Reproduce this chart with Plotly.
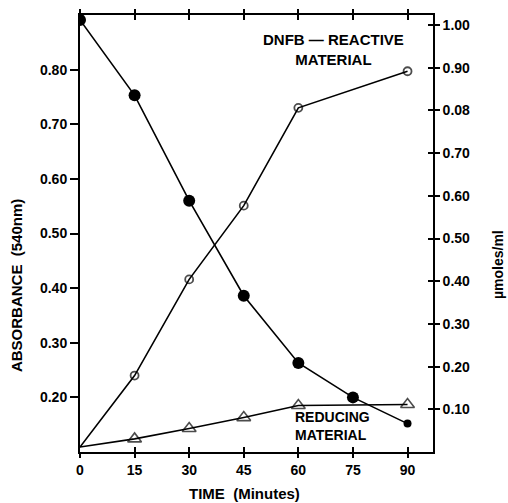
import plotly.graph_objects as go

time = [0, 15, 30, 45, 60, 75, 90]
filled = [0.891, 0.753, 0.560, 0.386, 0.263, 0.200, 0.152]
filled_size = [12, 12, 12, 12, 12, 12, 8]

time_open = [0, 15, 30, 45, 60, 90]
open_vals = [0.109, 0.240, 0.416, 0.551, 0.730, 0.797]
open_size = [0, 8, 8, 8, 8, 8]

time_tri = [0, 15, 30, 45, 60, 90]
tri_vals = [0.109, 0.124, 0.143, 0.163, 0.185, 0.187]
tri_size = [0, 12, 12, 12, 12, 12]

x_ticks = [0, 15, 30, 45, 60, 75, 90]
left_ticks = [0.20, 0.30, 0.40, 0.50, 0.60, 0.70, 0.80]
left_labels = ["0.20", "0.30", "0.40", "0.50", "0.60", "0.70", "0.80"]
right_ticks = [0.10, 0.20, 0.30, 0.40, 0.50, 0.60, 0.70, 0.80, 0.90, 1.00]
right_labels = ["0.10", "0.20", "0.30", "0.40", "0.50", "0.60", "0.70", "0.08", "0.90", "1.00"]

FONT = "Liberation Sans"
fs = 14
tickfont = dict(family=FONT, size=fs, color="black", weight="bold")

fig = go.Figure()
fig.add_trace(go.Scatter(x=time, y=filled, mode="lines+markers",
                         line=dict(color="black", width=1.6),
                         marker=dict(symbol="circle", size=filled_size, color="black",
                                     opacity=1, line=dict(width=0, color="black")),
                         showlegend=False))
fig.add_trace(go.Scatter(x=time_open, y=open_vals, mode="lines+markers",
                         line=dict(color="black", width=1.6),
                         marker=dict(symbol="circle-open", size=open_size, color="black",
                                     line=dict(width=1.8, color="black")),
                         showlegend=False))
fig.add_trace(go.Scatter(x=time_tri, y=tri_vals, mode="lines+markers",
                         line=dict(color="black", width=1.6),
                         marker=dict(symbol="triangle-up-open", size=tri_size, color="black",
                                     line=dict(width=1.6, color="black")),
                         showlegend=False))
# helper traces so extra tick axes are drawn
fig.add_trace(go.Scatter(x=[None], y=[None], xaxis="x3", yaxis="y", showlegend=False))
fig.add_trace(go.Scatter(x=[None], y=[None], xaxis="x", yaxis="y2", showlegend=False))
fig.add_trace(go.Scatter(x=[None], y=[None], xaxis="x", yaxis="y4", showlegend=False))

xr = [0, 97]
fig.update_layout(
    width=508, height=503,
    margin=dict(l=80, r=75, t=15, b=51),
    plot_bgcolor="white", paper_bgcolor="white",
    font=dict(family=FONT, size=fs, color="black"),
    xaxis=dict(range=xr, tickvals=x_ticks, ticktext=[str(v) for v in x_ticks],
               ticks="outside", ticklen=4, tickwidth=1.5, tickcolor="black",
               showline=True, linecolor="black", linewidth=2, mirror="ticks",
               showgrid=False, zeroline=False, automargin=False, tickfont=tickfont),
    xaxis3=dict(range=xr, tickvals=x_ticks, overlaying="x", anchor="y",
                ticks="inside", ticklen=5, tickwidth=1.5, tickcolor="black",
                showticklabels=False, mirror="ticks", showline=False,
                showgrid=False, zeroline=False, automargin=False),
    yaxis=dict(range=[0.10, 0.90], tickvals=left_ticks, ticktext=left_labels,
               ticks="outside", ticklen=8, tickwidth=1.5, tickcolor="black",
               showline=True, linecolor="black", linewidth=2,
               showgrid=False, zeroline=False, automargin=False, tickfont=tickfont),
    yaxis2=dict(range=[0, 1.0235], tickvals=right_ticks, ticktext=right_labels,
                overlaying="y", side="right", anchor="x",
                ticks="outside", ticklen=5, tickwidth=1.5, tickcolor="black",
                showline=True, linecolor="black", linewidth=1.6,
                showgrid=False, zeroline=False, automargin=False, tickfont=tickfont),
    yaxis4=dict(range=[0, 1.0235], tickvals=right_ticks, overlaying="y", side="right",
                anchor="x", ticks="inside", ticklen=5, tickwidth=1.5, tickcolor="black",
                showticklabels=False, showline=False, showgrid=False, zeroline=False,
                automargin=False),
)

def bold(size):
    return dict(family=FONT, size=size, color="black", weight="bold")

ann = dict(xref="paper", yref="paper", showarrow=False, xanchor="center", yanchor="middle")
fig.add_annotation(text="DNFB — REACTIVE<br>MATERIAL", x=0.717, y=0.920, align="center",
                   font=bold(15), **ann)
fig.add_annotation(text="REDUCING<br>MATERIAL", x=0.714, y=0.059, align="left",
                   font=bold(14), **ann)
fig.add_annotation(text="ABSORBANCE  (540nm)", x=-0.178, y=0.380, textangle=-90,
                   font=bold(15), **ann)
fig.add_annotation(text="µmoles/ml", x=1.184, y=0.430, textangle=-90, font=bold(14), **ann)
fig.add_annotation(text="TIME  (Minutes)", x=0.467, y=-0.096, font=bold(15), **ann)

fig.write_html("out.html", config={"displayModeBar": False},
               post_script="document.body.style.margin='0';document.body.style.overflow='hidden';")
